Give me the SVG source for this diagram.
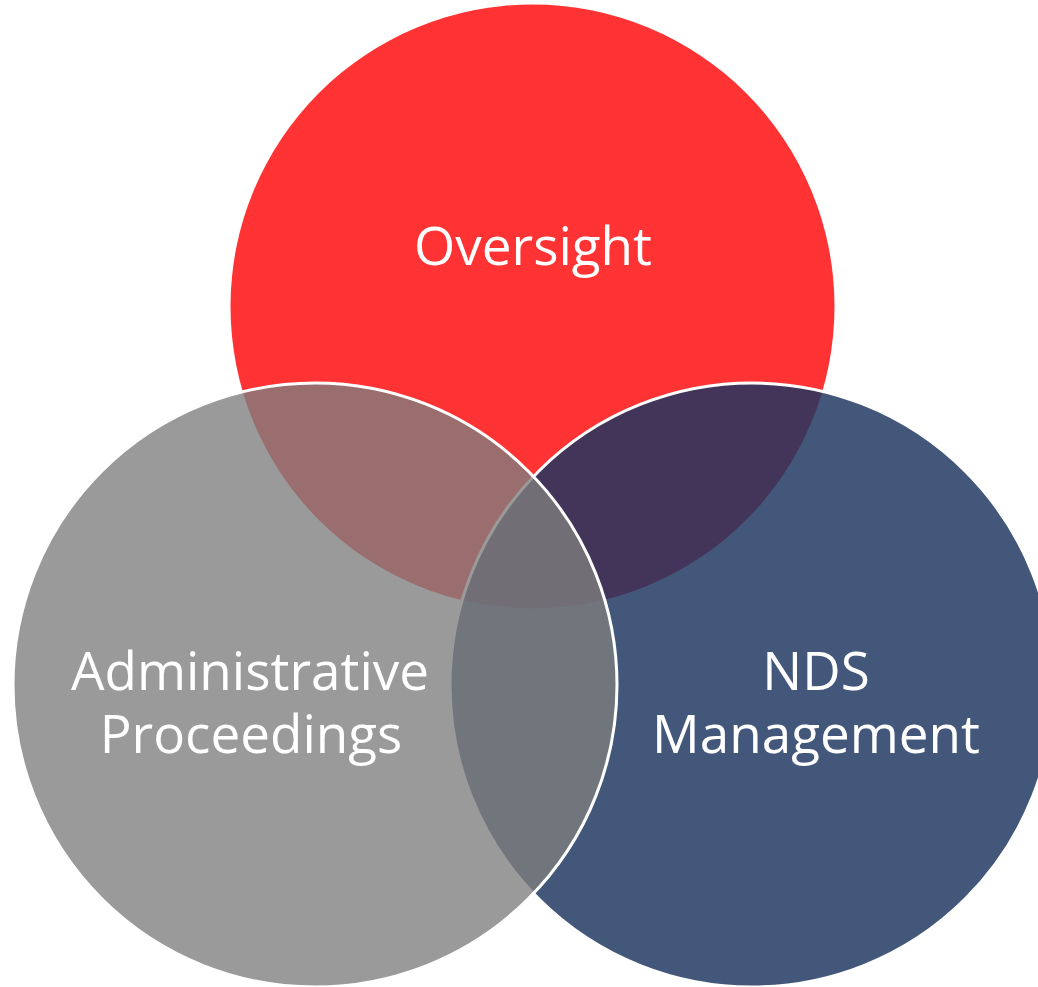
<svg xmlns="http://www.w3.org/2000/svg" width="1038" height="987" viewBox="0 0 1038 987">
<style>
.lbl{font-family:"Open Sans","Noto Sans","Liberation Sans",sans-serif;font-size:53px;fill:#ffffff;text-anchor:middle}
</style>
<rect x="0" y="0" width="1038" height="987" fill="#ffffff"/>
<g id="oversight">
<circle cx="532.5" cy="306.5" r="302" fill="#ff3333"/>
</g>
<g id="nds-management">
<circle cx="752" cy="685" r="302" fill="#1e3661" fill-opacity="0.835" stroke="#ffffff" stroke-width="3"/>
</g>
<g id="administrative-proceedings">
<circle cx="315" cy="685" r="302" fill="#7e7e7e" fill-opacity="0.784" stroke="#ffffff" stroke-width="3"/>
</g>
<g id="labels">
<text class="lbl" x="533" y="265">Oversight</text>
<text class="lbl" x="250" y="690">Administrative</text>
<text class="lbl" x="251" y="753">Proceedings</text>
<text class="lbl" x="816" y="690">NDS</text>
<text class="lbl" x="816" y="753">Management</text>
</g>
<g id="connectors"></g>
</svg>
